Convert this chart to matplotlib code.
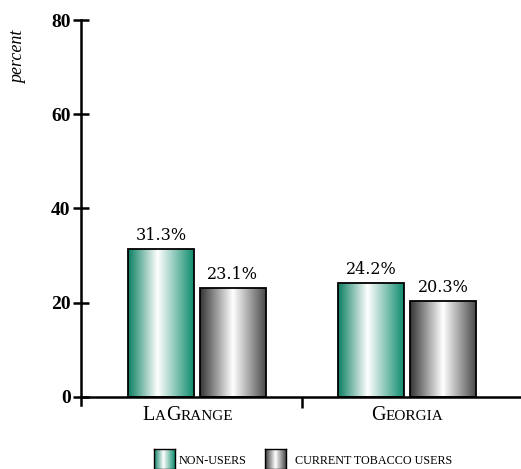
import numpy as np
import matplotlib
matplotlib.use("Agg")
import matplotlib.pyplot as plt
from matplotlib.colors import LinearSegmentedColormap
from matplotlib.patches import Rectangle

# chart data
categories = ["LaGrange", "Georgia"]
series_names = ["non-users", "current tobacco users"]
non_users = [31.3, 24.2]
tobacco_users = [23.1, 20.3]
y_ticks = [0, 20, 40, 60, 80]

plt.rcParams['font.family'] = ['Liberation Serif', 'DejaVu Serif']

teal_cmap = LinearSegmentedColormap.from_list(
    "teal", [(0.0, "#0b7f62"), (0.45, "#ffffff"), (1.0, "#0f8c6d")])
gray_cmap = LinearSegmentedColormap.from_list(
    "gray", [(0.0, "#353535"), (0.5, "#ffffff"), (1.0, "#4a4a4a")])

grad = np.linspace(0, 1, 256).reshape(1, -1)


def gradient_bar(ax, x, h, w, cmap):
    rect = Rectangle((x - w / 2, 0), w, h, facecolor="none",
                     edgecolor="black", linewidth=1.3, zorder=3)
    ax.add_patch(rect)
    im = ax.imshow(grad, cmap=cmap, aspect="auto",
                   extent=(x - w / 2, x + w / 2, 0, h), zorder=2)
    im.set_clip_path(rect)


fig = plt.figure(figsize=(5.21, 4.69), dpi=100)
ax = fig.add_axes([81 / 521, 1 - 405 / 469, 440 / 521, (405 - 20) / 469])

x = np.arange(len(categories))
w = 0.314
off = 0.1714
for i in range(len(categories)):
    gradient_bar(ax, x[i] - off, non_users[i], w, teal_cmap)
    gradient_bar(ax, x[i] + off, tobacco_users[i], w, gray_cmap)
    ax.text(x[i] - off, non_users[i] + 1.1, f"{non_users[i]}%",
            ha="center", va="bottom", fontsize=11.5, family="DejaVu Serif")
    ax.text(x[i] + off, tobacco_users[i] + 1.1, f"{tobacco_users[i]}%",
            ha="center", va="bottom", fontsize=11.5, family="DejaVu Serif")

ax.set_xlim(-0.552, 1.543)
ax.set_ylim(-1.7, 80)
ax.spines['top'].set_visible(False)
ax.spines['right'].set_visible(False)
ax.spines['left'].set_linewidth(1.8)
ax.spines['bottom'].set_linewidth(1.8)
ax.spines['bottom'].set_position(('data', 0))
ax.set_yticks(y_ticks)
ax.set_yticklabels([str(t) for t in y_ticks], fontsize=14, fontweight="bold")
ax.tick_params(axis='y', direction='inout', length=11, width=1.8, pad=2)
ax.set_xticks([0.5])
ax.set_xticklabels([""])
ax.tick_params(axis='x', direction='out', length=8, width=1.8)

fig.text(19 / 521, 1 - 57 / 469, "percent", rotation=90, style="italic",
         fontsize=13, ha="center", va="center")

renderer = fig.canvas.get_renderer()


def small_caps(xpix, ypix, s, big, small, ha="center"):
    # split into runs of upper/lower case, lower case drawn as small capitals
    runs = []
    for ch in s:
        size = big if ch.isupper() else small
        if runs and runs[-1][1] == size:
            runs[-1][0] += ch.upper()
        else:
            runs.append([ch.upper(), size])
    texts = []
    total = 0
    for txt, size in runs:
        t = fig.text(0, 1 - ypix / 469, txt, fontsize=size, va="baseline")
        bb = t.get_window_extent(renderer)
        texts.append((t, bb.width))
        total += bb.width
    start = xpix - total / 2 if ha == "center" else xpix
    for t, wd in texts:
        t.set_x(start / 521)
        start += wd


small_caps(188, 420, "LaGrange", 14.5, 11)
small_caps(407, 420, "Georgia", 14.5, 11)

# legend
leg_items = [(154, 179, teal_cmap, series_names[0]),
             (265, 295, gray_cmap, series_names[1])]
for xl, xt, cmap, name in leg_items:
    sax = fig.add_axes([xl / 521, 0, 21 / 521, 20 / 469])
    sax.imshow(grad, cmap=cmap, aspect="auto")
    sax.set_xticks([])
    sax.set_yticks([])
    for sp in sax.spines.values():
        sp.set_linewidth(1.0)
    small_caps(xt, 464, name, 9, 8.7, ha="left")

fig.savefig("out.png", dpi=100)
